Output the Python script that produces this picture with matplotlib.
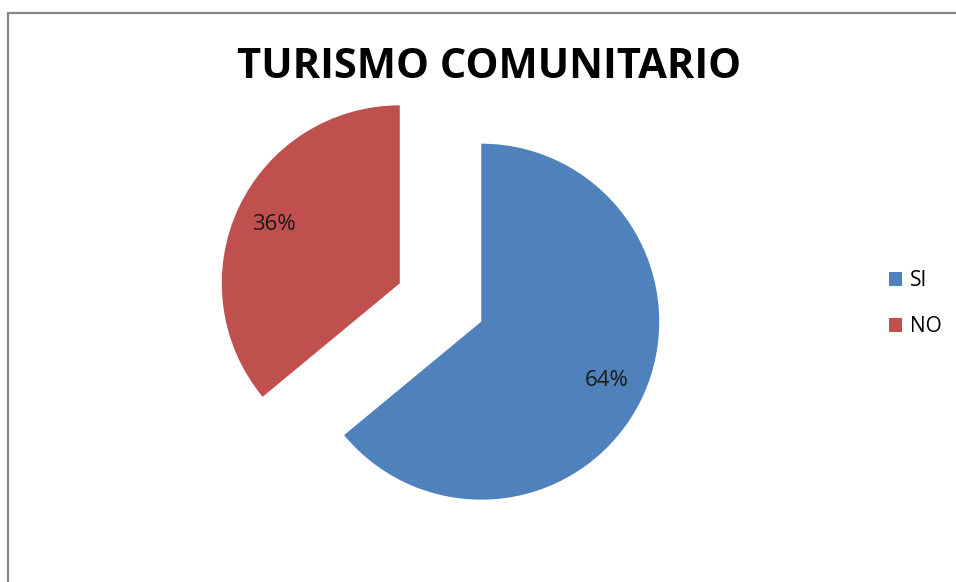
import matplotlib.pyplot as plt
from matplotlib.patches import Rectangle, Patch

# datos del grafico
categorias = ["SI", "NO"]
valores = [64, 36]
colores = ["#4F81BD", "#C0504D"]
titulo = "TURISMO COMUNITARIO"

fig = plt.figure(figsize=(9.56, 5.82), dpi=100)
fig.patch.set_facecolor("white")
ax = fig.add_axes([0, 0, 1, 1])

# marco del area del grafico (estilo Excel)
ax.add_patch(Rectangle((8.5, -20), 1000, 582 - 13 + 20, fill=False,
                       edgecolor="#888888", linewidth=1.6, clip_on=False))

wedges, texts, autotexts = ax.pie(
    valores,
    colors=colores,
    startangle=90,
    counterclock=False,
    center=(440.5, 279.5),
    radius=178,
    explode=[45, 45],
    autopct="%1.0f%%",
    pctdistance=0.78,
    textprops=dict(fontsize=16, color="#1a1a1a", family="Open Sans"),
    frame=True,
)
ax.set_xlim(0, 956)
ax.set_ylim(0, 582)
ax.set_aspect("equal")
ax.axis("off")

ax.text(489, 514, titulo, ha="center", va="center", fontsize=30,
        fontweight="bold", family="Open Sans", color="black")

handles = [Patch(facecolor=c, edgecolor="none") for c in colores]
leg = fig.legend(handles, categorias, loc="center left",
                 bbox_to_anchor=(870 / 956, 1 - 304 / 582), frameon=False,
                 prop=dict(family="Open Sans", size=15), handlelength=0.65,
                 handleheight=0.65, handletextpad=0.35, labelspacing=1.2)

plt.savefig("out.png", dpi=100)
